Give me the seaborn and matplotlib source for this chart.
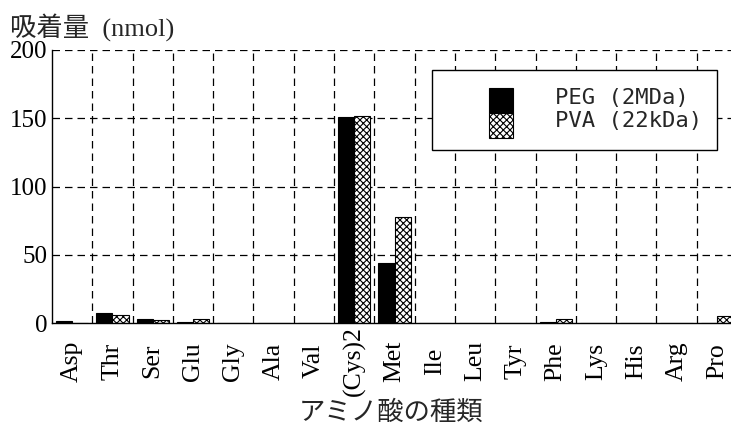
import pandas as pd
import matplotlib.pyplot as plt
import matplotlib.patches as mpatches
import seaborn as sns

amino = ["Asp", "Thr", "Ser", "Glu", "Gly", "Ala", "Val", "(Cys)2", "Met",
         "Ile", "Leu", "Tyr", "Phe", "Lys", "His", "Arg", "Pro"]
peg = [1.5, 7, 3, 0.5, 0, 0, 0, 151, 44, 0, 0, 0, 1, 0, 0, 0, 0]
pva = [0, 6, 2.5, 3, 0, 0, 0, 152, 78, 0, 0, 0, 3, 0, 0, 0, 5]
series = ["PEG (2MDa)", "PVA (22kDa)"]
yticks = [0, 50, 100, 150, 200]

sns.set_theme(style="white")
plt.rcParams['hatch.linewidth'] = 0.8
serif = ['Liberation Serif', 'Noto Sans CJK JP']
gothic = ['Noto Sans CJK JP', 'DejaVu Sans']

df = pd.DataFrame({
    "amino": amino * 2,
    "value": peg + pva,
    "series": [series[0]] * len(amino) + [series[1]] * len(amino),
})

W, H = 731, 425
fig = plt.figure(figsize=(W / 100, H / 100), dpi=100)
# plot area in pixels: left 52, bottom 323, top 50, category width ~40.3
ax = fig.add_axes([52 / W, (H - 323) / H, 685 / W, 273 / H])

sns.barplot(data=df, x="amino", y="value", hue="series", order=amino,
            palette=["black", "white"], width=0.8, edgecolor="black",
            linewidth=0.8, legend=False, ax=ax)
for bar in ax.containers[1]:
    bar.set_hatch("xxxxx")

ax.set_xlim(-0.5, len(amino) - 0.5)
ax.set_ylim(0, 200)
ax.set_yticks(yticks)
ax.set_yticklabels([str(t) for t in yticks], family=serif, fontsize=18)
ax.set_xticks(range(len(amino)))
ax.set_xticklabels(amino, rotation=90, family=serif, fontsize=18.5,
                   va="center", ha="center")
ax.tick_params(axis='x', length=0, pad=27.5, colors='black')
ax.tick_params(axis='y', length=0, pad=3, colors='black')
ax.set_xlabel("")
ax.set_ylabel("")

dash = (0, (6, 4))
for i in range(len(amino)):
    ax.axvline(i + 0.5, color="black", ls=dash, lw=0.9, zorder=0)
for t in yticks[1:]:
    ax.axhline(t, color="black", ls=dash, lw=0.9, zorder=0)

for side in ["top", "right"]:
    ax.spines[side].set_visible(False)
for side in ["left", "bottom"]:
    ax.spines[side].set_color("black")
    ax.spines[side].set_linewidth(1.0)


# legend drawn by hand: pixel coords -> axes fraction
def px(x, y):
    return (x - 52) / 685, (323 - y) / 273


x0, y0 = px(432, 150)
x1, y1 = px(717, 70)
ax.add_patch(mpatches.Rectangle((x0, y0), x1 - x0, y1 - y0, transform=ax.transAxes,
                                facecolor="white", edgecolor="black", lw=1.0, zorder=5))
hx0, hy_mid = px(489, 113)
hx1, hy_top = px(513, 88)
_, hy_bot = px(489, 138)
ax.add_patch(mpatches.Rectangle((hx0, hy_mid), hx1 - hx0, hy_top - hy_mid, transform=ax.transAxes,
                                facecolor="black", edgecolor="black", lw=0.8, zorder=6))
ax.add_patch(mpatches.Rectangle((hx0, hy_bot), hx1 - hx0, hy_mid - hy_bot, transform=ax.transAxes,
                                facecolor="white", edgecolor="black", lw=0.8, hatch="xxxxx", zorder=6))
for label, yc in zip(series, [98, 121.5]):
    tx, ty = px(555, yc)
    ax.text(tx, ty, label, transform=ax.transAxes, ha="left", va="center",
            family="DejaVu Sans Mono", fontsize=16, zorder=7)

fig.text(10 / W, 1 - 36 / H, "吸着量  (nmol)", family=serif, fontsize=19,
         va="baseline", ha="left")
fig.text(391 / W, 1 - 412 / H, "アミノ酸の種類", family=gothic, fontsize=19,
         va="center", ha="center")

fig.savefig("out.png", dpi=100)
